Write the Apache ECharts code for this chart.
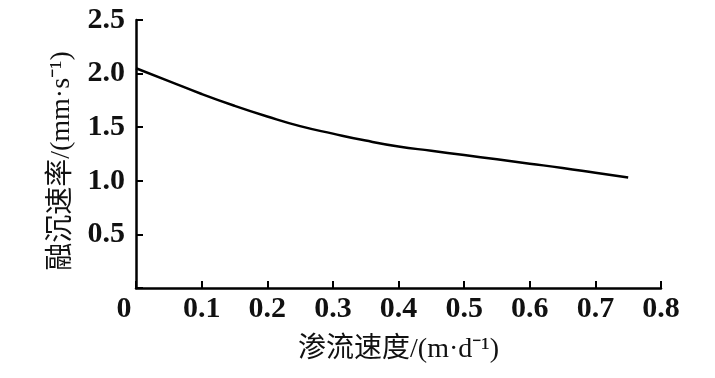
<!DOCTYPE html>
<html><head><meta charset="utf-8">
<script src="https://cdn.jsdelivr.net/npm/echarts@6/dist/echarts.min.js"></script>
<style>html,body{margin:0;padding:0;background:#fff}#c{width:715px;height:378px}</style>
</head><body><div id="c"></div>
<script>
const xValues = [0, 0.05, 0.1, 0.15, 0.2, 0.25, 0.3, 0.35, 0.4, 0.45, 0.5, 0.55, 0.6, 0.65, 0.7, 0.75];
const yValues = [2.05, 1.93, 1.81, 1.70, 1.60, 1.51, 1.44, 1.375, 1.32, 1.28, 1.24, 1.20, 1.16, 1.12, 1.075, 1.03];
const xAxisTitle = '渗流速度/(m·d⁻¹)';
const yAxisTitle = '融沉速率/(mm·s⁻¹)';

const font = "'Liberation Serif', 'Noto Sans CJK SC', serif";
const chart = echarts.init(document.getElementById('c'), null, {renderer: 'canvas'});
chart.setOption({
  animation: false,
  backgroundColor: '#fff',
  grid: {left: 136, right: 54, top: 20, bottom: 90, containLabel: false},
  xAxis: {
    type: 'value', min: 0, max: 0.8, interval: 0.1,
    name: xAxisTitle, nameLocation: 'middle', nameGap: 48,
    nameTextStyle: {fontFamily: font, fontSize: 28, color: '#111'},
    axisLine: {show: true, lineStyle: {color: '#000', width: 2.5}},
    axisTick: {show: true, inside: true, length: 7, lineStyle: {color: '#000', width: 2}},
    splitLine: {show: false},
    axisLabel: {
      margin: 6, color: '#111', fontFamily: font, fontSize: 30, fontWeight: 'bold',
      formatter: v => v === 0 ? '{z|0}' : v.toFixed(1),
      rich: {z: {fontFamily: font, fontSize: 30, fontWeight: 'bold', color: '#111', padding: [0, 24, 0, 0]}}
    }
  },
  yAxis: {
    type: 'value', min: 0, max: 2.5, interval: 0.5,
    name: yAxisTitle, nameLocation: 'middle', nameGap: 60,
    nameTextStyle: {fontFamily: font, fontSize: 28, color: '#111', padding: [0, 14, 0, 0]},
    axisLine: {show: true, lineStyle: {color: '#000', width: 2.5}},
    axisTick: {show: true, inside: true, length: 7, lineStyle: {color: '#000', width: 2}},
    splitLine: {show: false},
    axisLabel: {
      margin: 11, color: '#111', fontFamily: font, fontSize: 30, fontWeight: 'bold',
      formatter: v => v === 0 ? '' : v.toFixed(1)
    }
  },
  series: [{
    type: 'line', smooth: true, showSymbol: false, symbol: 'none',
    data: xValues.map((x, i) => [x, yValues[i]]),
    lineStyle: {color: '#000', width: 2.5}
  }]
});
</script></body></html>
